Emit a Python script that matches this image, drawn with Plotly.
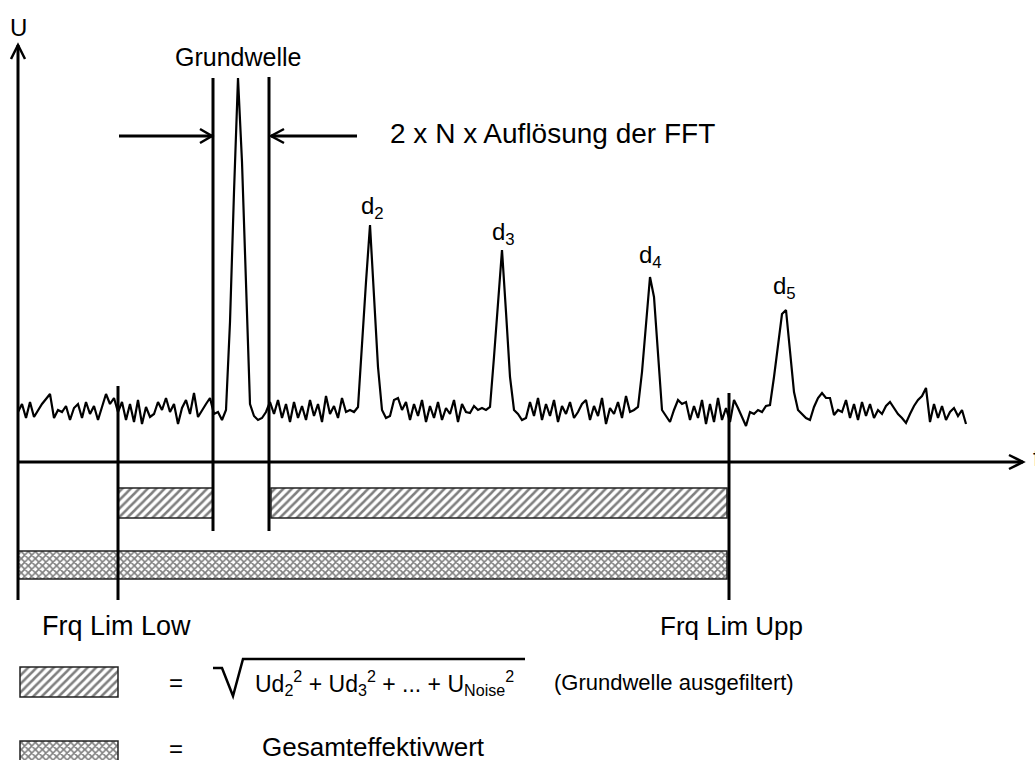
import plotly.graph_objects as go

# spectrum: frequency grid (px-like units) and amplitude above the f axis
freq = list(range(18, 970, 4))
amplitude = [
    50, 58, 44, 60, 45, 52, 58, 63, 68, 44, 52, 50, 56, 42, 54, 58, 44, 60, 48, 56,
    42, 55, 68, 58, 64, 50, 60, 42, 58, 40, 62, 38, 55, 45, 48, 60, 52, 64, 50, 58,
    38, 54, 62, 48, 69, 45, 52, 58, 64, 48, 50, 42, 52, 140, 270, 384, 300, 170, 58, 46,
    42, 44, 50, 60, 48, 62, 44, 58, 40, 60, 44, 56, 42, 62, 46, 58, 40, 66, 48, 56,
    44, 64, 50, 52, 50, 55, 120, 180, 237, 170, 95, 52, 44, 46, 62, 64, 52, 60, 42, 58,
    46, 62, 40, 56, 44, 60, 42, 54, 48, 62, 40, 58, 50, 49, 56, 52, 54, 52, 55, 105,
    160, 212, 150, 85, 52, 48, 42, 44, 60, 46, 64, 42, 58, 46, 62, 40, 56, 48, 60, 44,
    50, 58, 62, 42, 56, 46, 64, 38, 54, 48, 60, 44, 66, 50, 52, 55, 90, 135, 185, 165,
    105, 52, 46, 40, 52, 62, 58, 60, 42, 56, 44, 62, 38, 58, 40, 64, 42, 54, 40, 62,
    54, 44, 36, 50, 48, 52, 50, 56, 57, 85, 115, 148, 152, 110, 70, 52, 48, 44, 42, 55,
    64, 69, 64, 64, 47, 52, 50, 62, 44, 58, 42, 60, 46, 58, 44, 52, 48, 56, 60, 54,
    48, 44, 39, 48, 56, 62, 66, 74, 40, 58, 44, 56, 42, 50, 54, 46, 52, 38,
]

# harmonic labels
peak_labels = ["d<sub>2</sub>", "d<sub>3</sub>", "d<sub>4</sub>", "d<sub>5</sub>"]
peak_label_x = [372, 503, 650, 784]
peak_label_y = [255, 229, 206, 175]

# vertical marker lines: Frq Lim Low, gate left, gate right, Frq Lim Upp
vline_x = [118, 213, 269, 729]
vline_top = [76, 384, 385, 69]
vline_bottom = [-138, -69, -69, -138]

# rms bands (hatched = without fundamental, crosshatch = total)
hatch_base = [118, 271, 20]
hatch_len = [95, 456, 98]
hatch_y = [-41, -41, -220]
hatch_w = [30, 30, 30]
cross_base = [18, 20]
cross_len = [709, 98]
cross_y = [-103, -295]
cross_w = [28, 32]

FONT = "Liberation Sans, Arial, sans-serif"

fig = go.Figure()

fig.add_trace(go.Scatter(x=freq, y=amplitude, mode="lines",
                         line=dict(color="black", width=2.2), hoverinfo="skip"))

fig.add_trace(go.Bar(orientation="h", base=hatch_base, x=hatch_len, y=hatch_y, width=hatch_w,
                     marker=dict(color="white",
                                 line=dict(color="#222222", width=1.5),
                                 pattern=dict(shape="/", fgcolor="black", bgcolor="white",
                                              size=6, solidity=0.42)),
                     hoverinfo="skip"))
fig.add_trace(go.Bar(orientation="h", base=cross_base, x=cross_len, y=cross_y, width=cross_w,
                     marker=dict(color="white",
                                 line=dict(color="#222222", width=1.5),
                                 pattern=dict(shape="x", fgcolor="black", bgcolor="white",
                                              size=5, solidity=0.55)),
                     hoverinfo="skip"))

shapes = []
line_style = dict(color="black", width=3)
# axes
shapes.append(dict(type="line", x0=18, x1=18, y0=-138, y1=417, line=line_style))
shapes.append(dict(type="line", x0=18, x1=1023, y0=0, y1=0, line=line_style))
shapes.append(dict(type="path", path="M 11 403 L 18 417 L 25 403", line=dict(color="black", width=2.5)))
shapes.append(dict(type="path", path="M 1009 7 L 1023 0 L 1009 -7", line=dict(color="black", width=2.5)))
for x, y0, y1 in zip(vline_x, vline_bottom, vline_top):
    shapes.append(dict(type="line", x0=x, x1=x, y0=y0, y1=y1, line=line_style))
# dimension arrows for the gate
shapes.append(dict(type="line", x0=119, x1=212, y0=326, y1=326, line=line_style))
shapes.append(dict(type="path", path="M 200 333 L 212 326 L 200 319", line=dict(color="black", width=2.5)))
shapes.append(dict(type="line", x0=271, x1=357, y0=326, y1=326, line=line_style))
shapes.append(dict(type="path", path="M 284 333 L 271 326 L 284 319", line=dict(color="black", width=2.5)))
# square root sign
shapes.append(dict(type="path", path="M 213 -206 L 222 -206 L 233 -234 L 243 -197 L 525 -197",
                   line=dict(color="black", width=2.5)))
for s in shapes:
    s.update(xref="x", yref="y", layer="above")

annotations = []


def label(text, x, y, size=24, xanchor="center"):
    annotations.append(dict(text=text, x=x, y=y, xref="x", yref="y", showarrow=False,
                            xanchor=xanchor, yanchor="middle",
                            font=dict(family=FONT, size=size, color="black")))


label("U", 18, 435, 24)
label("Grundwelle", 173, 405, 25, "left")
label("2 x N x Auflösung der FFT", 388, 329, 28, "left")
for t, x, y in zip(peak_labels, peak_label_x, peak_label_y):
    label(t, x, y, 24)
label("Frq Lim Low", 40, -164, 27, "left")
label("Frq Lim Upp", 658, -164, 26, "left")
label("=", 176, -220, 24)
label("=", 176, -286, 24)
label("Ud<sub>2</sub><sup>2</sup> + Ud<sub>3</sub><sup>2</sup> + ... + U<sub>Noise</sub><sup>2</sup>",
      253, -221, 23, "left")
label("(Grundwelle ausgefiltert)", 552, -220, 22, "left")
label("Gesamteffektivwert", 260, -285, 26, "left")
label("f", 1031, 5, 24, "left")

fig.update_layout(
    width=1035, height=760,
    margin=dict(l=0, r=0, t=0, b=0),
    paper_bgcolor="white", plot_bgcolor="white",
    showlegend=False,
    barmode="overlay",
    xaxis=dict(range=[0, 1035], visible=False, fixedrange=True),
    yaxis=dict(range=[-298, 462], visible=False, fixedrange=True),
    shapes=shapes,
    annotations=annotations,
)

fig.write_html("out.html", config={"displayModeBar": False},
               post_script="document.body.style.margin='0';")
